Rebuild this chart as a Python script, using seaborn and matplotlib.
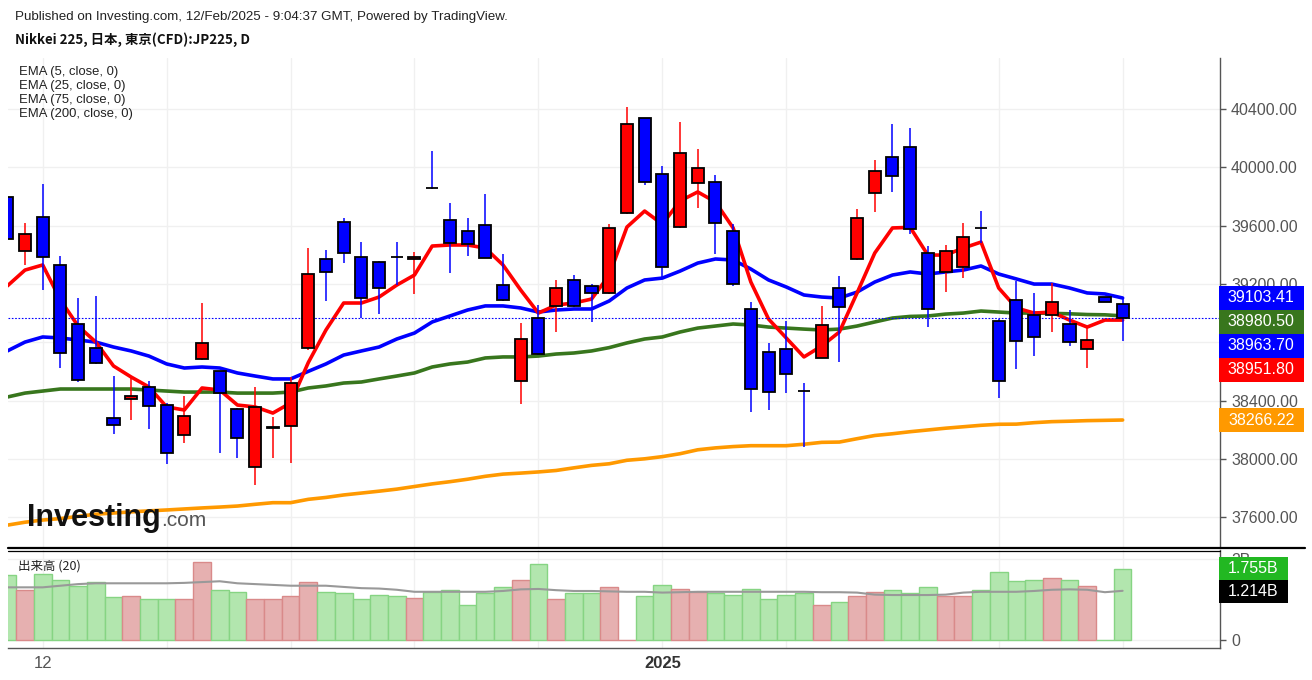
import numpy as np
import pandas as pd
import matplotlib
matplotlib.use("Agg")
import matplotlib.pyplot as plt
import matplotlib.transforms as mtransforms
from matplotlib.lines import Line2D
from matplotlib.patches import Rectangle
import seaborn as sns

# daily candles of the JP225 CFD
opens = [39796, 39426, 39659, 39328, 38925, 38760, 38280, 38410, 38493, 38369,
         38163, 38685, 38602, 38342, 37944, 38214, 38225, 38760, 39371, 39625,
         39385, 39350, 39385, 39371, 39860, 39638, 39563, 39604, 39192, 38534,
         38966, 39049, 39227, 39186, 39138, 39686, 40338, 39954, 39590, 39890,
         39901, 39563, 39028, 38733, 38753, 38465, 38692, 39172, 39371, 39824,
         40071, 40139, 39412, 39282, 39316, 39584, 38945, 39090, 38987, 38987,
         38925, 38753, 39112, 39062]
highs = [39810, 39618, 39885, 39391, 39105, 39117, 38568, 38554, 38534, 38383,
         38431, 39069, 38602, 38349, 38493, 38287, 38561, 39446, 39433, 39652,
         39487, 39355, 39487, 39419, 40112, 39755, 39652, 39817, 39405, 38932,
         39055, 39227, 39261, 39200, 39611, 40414, 40340, 40009, 40311, 40126,
         39947, 39611, 39076, 38795, 38945, 38520, 39048, 39254, 39714, 40050,
         40297, 40270, 39460, 39467, 39618, 39700, 38959, 39220, 39138, 39206,
         39021, 38906, 39112, 39110]
lows = [39500, 39330, 39158, 38623, 38530, 38650, 38170, 38266, 38205, 37964,
        38108, 38680, 38040, 38005, 37820, 38005, 37971, 38750, 39083, 39343,
        38966, 38994, 39192, 39131, 39851, 39275, 39391, 39375, 39085, 38376,
        38715, 38870, 39045, 38939, 39130, 39680, 39879, 39240, 39585, 39721,
        39405, 39186, 38321, 38335, 38451, 38081, 38690, 38664, 39365, 39693,
        39831, 39542, 38904, 39144, 39241, 39481, 38417, 38616, 38705, 38870,
        38774, 38623, 39078, 38808]
closes = [39508, 39542, 39385, 38728, 38541, 38657, 38232, 38431, 38363, 38040,
          38294, 38795, 38451, 38143, 38356, 38220, 38520, 39268, 39282, 39412,
          39103, 39172, 39385, 39387, 39860, 39481, 39474, 39378, 39090, 38822,
          38719, 39172, 39049, 39138, 39584, 40297, 39899, 39316, 40098, 39997,
          39616, 39199, 38479, 38458, 38582, 38465, 38918, 39042, 39652, 39975,
          39940, 39577, 39028, 39426, 39522, 39584, 38534, 38808, 38836, 39076,
          38801, 38815, 39078, 38963.70]

# volume in billions and its 20-day average
volume_b = [1.60, 1.23, 1.64, 1.49, 1.34, 1.42, 1.05, 1.09, 1.00, 1.00,
            1.00, 1.93, 1.23, 1.19, 1.00, 1.00, 1.09, 1.42, 1.19, 1.15,
            1.00, 1.12, 1.09, 1.04, 1.19, 1.23, 0.86, 1.15, 1.30, 1.49,
            1.87, 1.00, 1.15, 1.15, 1.30, 0.00, 1.09, 1.37, 1.27, 1.19,
            1.17, 1.11, 1.27, 1.00, 1.11, 1.17, 0.86, 0.94, 1.09, 1.19,
            1.23, 1.15, 1.30, 1.09, 1.09, 1.23, 1.67, 1.46, 1.49, 1.52,
            1.49, 1.34, 0.00, 1.755]
vol_ma_b = [1.30, 1.30, 1.30, 1.34, 1.38, 1.40, 1.40, 1.40, 1.40, 1.40,
            1.41, 1.43, 1.45, 1.40, 1.38, 1.36, 1.34, 1.34, 1.34, 1.31,
            1.28, 1.27, 1.24, 1.19, 1.19, 1.19, 1.19, 1.19, 1.21, 1.25,
            1.26, 1.23, 1.21, 1.21, 1.20, 1.19, 1.19, 1.17, 1.18, 1.19,
            1.19, 1.19, 1.19, 1.19, 1.19, 1.19, 1.18, 1.18, 1.17, 1.12,
            1.11, 1.11, 1.11, 1.12, 1.17, 1.19, 1.19, 1.19, 1.21, 1.24,
            1.25, 1.24, 1.18, 1.214]

# moving averages as drawn on the chart
ema5 = [39186, 39295, 39330, 39090, 38911, 38801, 38637, 38561, 38493, 38356,
        38335, 38486, 38472, 38369, 38356, 38314, 38383, 38660, 38884, 39069,
        39069, 39110, 39192, 39261, 39460, 39467, 39467, 39446, 39330, 39158,
        39000, 39055, 39069, 39096, 39260, 39590, 39700, 39610, 39769, 39831,
        39762, 39584, 39213, 38959, 38829, 38699, 38774, 38870, 39138, 39412,
        39584, 39588, 39398, 39398, 39446, 39487, 39172, 39035, 39000, 39007,
        38952, 38904, 38952, 38951.80]
ema25 = [38740, 38801, 38836, 38829, 38815, 38801, 38767, 38740, 38705, 38651,
         38623, 38630, 38623, 38589, 38568, 38548, 38548, 38600, 38651, 38712,
         38740, 38767, 38822, 38863, 38939, 38980, 39021, 39049, 39049, 39035,
         39007, 39021, 39028, 39028, 39083, 39172, 39227, 39240, 39288, 39343,
         39371, 39364, 39302, 39227, 39179, 39124, 39110, 39103, 39144, 39213,
         39261, 39282, 39268, 39282, 39295, 39323, 39268, 39234, 39199, 39199,
         39172, 39138, 39131, 39103.41]
ema75 = [38424, 38451, 38465, 38479, 38479, 38479, 38479, 38479, 38472, 38465,
         38458, 38458, 38458, 38451, 38451, 38451, 38458, 38486, 38500, 38520,
         38527, 38548, 38568, 38589, 38630, 38651, 38664, 38692, 38699, 38699,
         38705, 38719, 38726, 38740, 38763, 38795, 38822, 38836, 38870, 38897,
         38911, 38925, 38918, 38904, 38897, 38890, 38884, 38890, 38911, 38939,
         38966, 38977, 38980, 38993, 39000, 39014, 39007, 39000, 39000, 38998,
         38995, 38990, 38988, 38980.50]
ema200 = [37545, 37565, 37580, 37590, 37605, 37620, 37628, 37636, 37643, 37649,
          37656, 37663, 37669, 37676, 37688, 37699, 37699, 37722, 37735, 37752,
          37765, 37778, 37792, 37810, 37828, 37843, 37860, 37880, 37895, 37902,
          37910, 37920, 37938, 37955, 37966, 37990, 38000, 38015, 38035, 38062,
          38075, 38084, 38090, 38090, 38090, 38100, 38113, 38115, 38138, 38160,
          38172, 38186, 38198, 38210, 38220, 38230, 38237, 38238, 38248, 38255,
          38258, 38262, 38264, 38266.22]

price_ticks = [37600, 38000, 38400, 38800, 39200, 39600, 40000, 40400]
hidden_ticks = [38800]  # covered by the value tags on the chart
date_tick_pos = [2, 9, 16, 23, 30, 37, 44, 56, 63]
date_tick_labels = ["12", "", "", "", "", "2025", "", "", ""]
ema_names = ["EMA (5, close, 0)", "EMA (25, close, 0)", "EMA (75, close, 0)", "EMA (200, close, 0)"]

RED = "#ff0000"
BLUE = "#0000ff"
GREEN = "#38761d"
ORANGE = "#ff9900"
GREY = "#555555"

W, H = 1312, 680

sns.set_theme(style="white")
plt.rcParams["font.family"] = ["Liberation Sans", "Noto Sans CJK JP", "DejaVu Sans"]

fig = plt.figure(figsize=(W / 100, H / 100), dpi=100)


def rect(x0, y0, x1, y1):
    # pixel box (top-left origin) -> add_axes rectangle
    return [x0 / W, 1 - y1 / H, (x1 - x0) / W, (y1 - y0) / H]


def fx(x):
    return x / W


def fy(y):
    return 1 - y / H


ax = fig.add_axes(rect(8, 58, 1220, 547))
axv = fig.add_axes(rect(8, 550, 1220, 648), sharex=ax)

df = pd.DataFrame({"open": opens, "high": highs, "low": lows, "close": closes,
                   "volume": volume_b, "vol_ma": vol_ma_b})
df["i"] = np.arange(len(df))
df["up"] = df["close"] > df["open"]
candle_col = np.where(df["up"], RED, BLUE)

# moving averages
for vals, col in [(ema200, ORANGE), (ema75, GREEN), (ema25, BLUE), (ema5, RED)]:
    sns.lineplot(x=df["i"], y=vals, ax=ax, color=col, linewidth=2.6, zorder=2)

# last price line
ax.axhline(closes[-1], color=BLUE, linewidth=0.8, linestyle=(0, (1.5, 1.5)), zorder=2)

# candles
ax.vlines(df["i"], df["low"], df["high"], colors=candle_col, linewidth=1.1, zorder=3)
ax.bar(df["i"], (df["close"] - df["open"]).abs(), bottom=df[["open", "close"]].min(axis=1),
       width=0.68, color=candle_col, edgecolor="black", linewidth=1.3, zorder=4)

ax.set_xlim(0.04, 68.5)
ax.set_ylim(37395, 40750)
ax.set_xlabel("")
ax.set_ylabel("")
ax.yaxis.tick_right()
ax.set_yticks(price_ticks)
ax.set_yticklabels(["" if v in hidden_ticks else f"{v:.2f}" for v in price_ticks])
ax.tick_params(axis="y", colors=GREY, labelsize=11.5, length=4, width=1, direction="out", pad=4)
ax.set_xticks(date_tick_pos)
ax.tick_params(axis="x", length=0, labelbottom=False)
ax.grid(True, color="#f0f0f0", linewidth=1)
ax.set_axisbelow(True)
for s in ["top", "left", "bottom"]:
    ax.spines[s].set_visible(False)
ax.spines["right"].set_color(GREY)
ax.spines["right"].set_linewidth(1)

# volume panel
vol_fill = np.where(df["up"], "#e6b0b0", "#b2e6ae")
vol_edge = np.where(df["up"], "#d98a8a", "#86d483")
axv.bar(df["i"], df["volume"], width=1.0, color=vol_fill, edgecolor=vol_edge, linewidth=1, zorder=2)
sns.lineplot(x=df["i"], y=df["vol_ma"], ax=axv, color="#999999", linewidth=1.5, zorder=3)
axv.set_ylim(-0.198, 2.222)
axv.set_xlabel("")
axv.set_ylabel("")
axv.yaxis.tick_right()
axv.set_yticks([0, 2])
axv.set_yticklabels(["0", "2B"])
axv.tick_params(axis="y", colors=GREY, labelsize=11.5, length=4, width=1, direction="out", pad=4)
axv.set_xticks(date_tick_pos)
axv.set_xticklabels(date_tick_labels)
axv.tick_params(axis="x", colors=GREY, labelsize=12, length=5, width=1, direction="out", pad=1)
for lbl in axv.get_xticklabels():
    if lbl.get_text() == "2025":
        lbl.set_fontweight("bold")
        lbl.set_color("#333333")
axv.grid(True, color="#f0f0f0", linewidth=1)
axv.set_axisbelow(True)
for s in ["top", "left"]:
    axv.spines[s].set_visible(False)
for s in ["right", "bottom"]:
    axv.spines[s].set_color(GREY)
    axv.spines[s].set_linewidth(1)


def value_boxes(axis, items, box_px, width_px, fontsize):
    # coloured value tags on the right axis, pushed down so they don't overlap
    lo, hi = axis.get_ylim()
    ax_h = axis.get_position().height * H
    half = box_px / 2 * (hi - lo) / ax_h
    tr = mtransforms.blended_transform_factory(axis.transAxes, axis.transData)
    ax_w = axis.get_position().width * W
    prev = None
    for val, text, col in sorted(items, key=lambda t: -t[0]):
        yc = val if prev is None else min(val, prev - 2 * half)
        prev = yc
        axis.add_patch(Rectangle((0.999, yc - half), width_px / ax_w, 2 * half, transform=tr,
                                 facecolor=col, edgecolor="none", clip_on=False, zorder=10))
        axis.text(0.999 + width_px / 2 / ax_w, yc, text, transform=tr, color="white",
                  fontsize=fontsize, ha="center", va="center", clip_on=False, zorder=11)


value_boxes(ax, [(ema25[-1], f"{ema25[-1]:.2f}", BLUE),
                 (ema75[-1], f"{ema75[-1]:.2f}", GREEN),
                 (closes[-1], f"{closes[-1]:.2f}", BLUE),
                 (ema5[-1], f"{ema5[-1]:.2f}", RED),
                 (ema200[-1], f"{ema200[-1]:.2f}", ORANGE)], 24, 85, 11.5)
value_boxes(axv, [(volume_b[-1], f"{volume_b[-1]:.3f}B", "#22b822"),
                  (vol_ma_b[-1], f"{vol_ma_b[-1]:.3f}B", "black")], 23, 69, 11.5)

# panel separator
fig.add_artist(Line2D([fx(8), fx(1305)], [fy(548), fy(548)], color="black", linewidth=1.6))
fig.add_artist(Line2D([fx(8), fx(1220)], [fy(550.5), fy(550.5)], color="black", linewidth=0.9))

# header texts
fig.text(fx(15), fy(17), "Published on Investing.com, 12/Feb/2025 - 9:04:37 GMT, Powered by TradingView.",
         fontsize=9.6, color="#222222", va="center", ha="left")
fig.text(fx(15), fy(40), "Nikkei 225, 日本, 東京(CFD):JP225, D", family=["Noto Sans CJK JP", "DejaVu Sans"],
         fontsize=9.6, fontweight="bold", color="#111111", va="center", ha="left")
for k, name in enumerate(ema_names):
    fig.text(fx(19), fy(72 + 14 * k), name, fontsize=9.4, color="#222222", va="center", ha="left")
fig.text(fx(18), fy(566), "出来高 (20)", family=["Noto Sans CJK JP", "DejaVu Sans"],
         fontsize=9, color="#222222", va="center", ha="left")

# watermark logo
logo = fig.text(fx(27), fy(526), "Investing", fontsize=22, fontweight="bold", color="#111111",
                va="baseline", ha="left", zorder=20)
fig.canvas.draw()
bb = logo.get_window_extent()
fig.text(bb.x1 / W, fy(526), ".com", fontsize=15, color="#555555", va="baseline", ha="left", zorder=20)

fig.savefig("out.png", dpi=100)
